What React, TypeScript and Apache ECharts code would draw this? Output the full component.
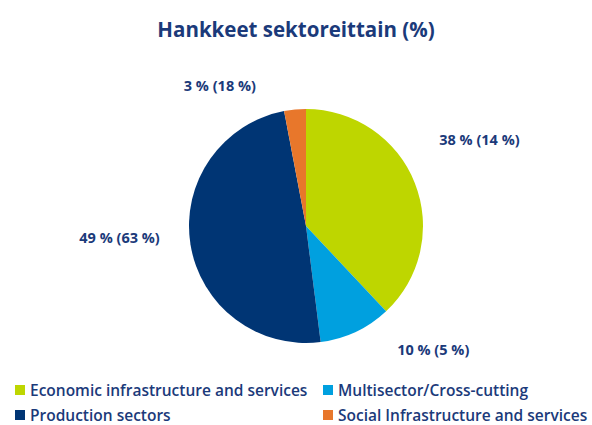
import React, { useEffect, useRef } from "react";
import * as echarts from "echarts";

const categories = [
  "Economic infrastructure and services",
  "Multisector/Cross-cutting",
  "Production sectors",
  "Social Infrastructure and services",
];
const shareValues = [38, 10, 49, 3];
const secondaryValues = [14, 5, 63, 18];
const colors = ["#BED600", "#00A0DF", "#003574", "#E8772B"];
const titleText = "Hankkeet sektoreittain (%)";

// styling nudges for label placement (not data)
const labelNudgeX = [-9, 19, 4, -24];
const labelNudgeY = [-35, -2, -10, -2];

const textColor = "#1B3A7A";
const fontFamily = "'Open Sans', 'DejaVu Sans', sans-serif";

export default function App() {
  const ref = useRef<HTMLDivElement>(null);
  useEffect(() => {
    if (!ref.current) return;
    const chart = echarts.init(ref.current, undefined, { renderer: "svg" });
    const legendStyle = {
      orient: "vertical",
      top: 382,
      height: 80,
      padding: 0,
      itemWidth: 10,
      itemHeight: 10,
      itemGap: 9,
      icon: "rect",
      textStyle: { color: textColor, fontSize: 15.5, lineHeight: 16, fontWeight: 600, fontFamily },
    };
    chart.setOption({
      animation: false,
      backgroundColor: "#ffffff",
      title: {
        text: titleText,
        left: "center",
        top: 13,
        textStyle: { color: textColor, fontSize: 20.5, fontWeight: "bold", fontFamily },
      },
      legend: [
        { ...legendStyle, data: [categories[0], categories[2]], left: 15 },
        { ...legendStyle, data: [categories[1], categories[3]], left: 323 },
      ],
      series: [
        {
          type: "pie",
          center: [306, 226],
          radius: [0, 117],
          startAngle: 90,
          clockwise: true,
          color: colors,
          data: categories.map((name, i) => ({ name, value: shareValues[i] })),
          label: {
            show: true,
            position: "outside",
            formatter: (p: any) => `${shareValues[p.dataIndex]} % (${secondaryValues[p.dataIndex]} %)`,
            color: textColor,
            fontSize: 14.5,
            fontWeight: "bold",
            fontFamily,
          },
          labelLine: { show: false, length: 22, length2: 8 },
          labelLayout: (p: any) => ({ dx: labelNudgeX[p.dataIndex], dy: labelNudgeY[p.dataIndex] }),
          itemStyle: { borderWidth: 0 },
        },
      ],
    });
    return () => chart.dispose();
  }, []);
  return <div ref={ref} style={{ position: "absolute", left: 0, top: 0, width: 592, height: 425 }} />;
}
